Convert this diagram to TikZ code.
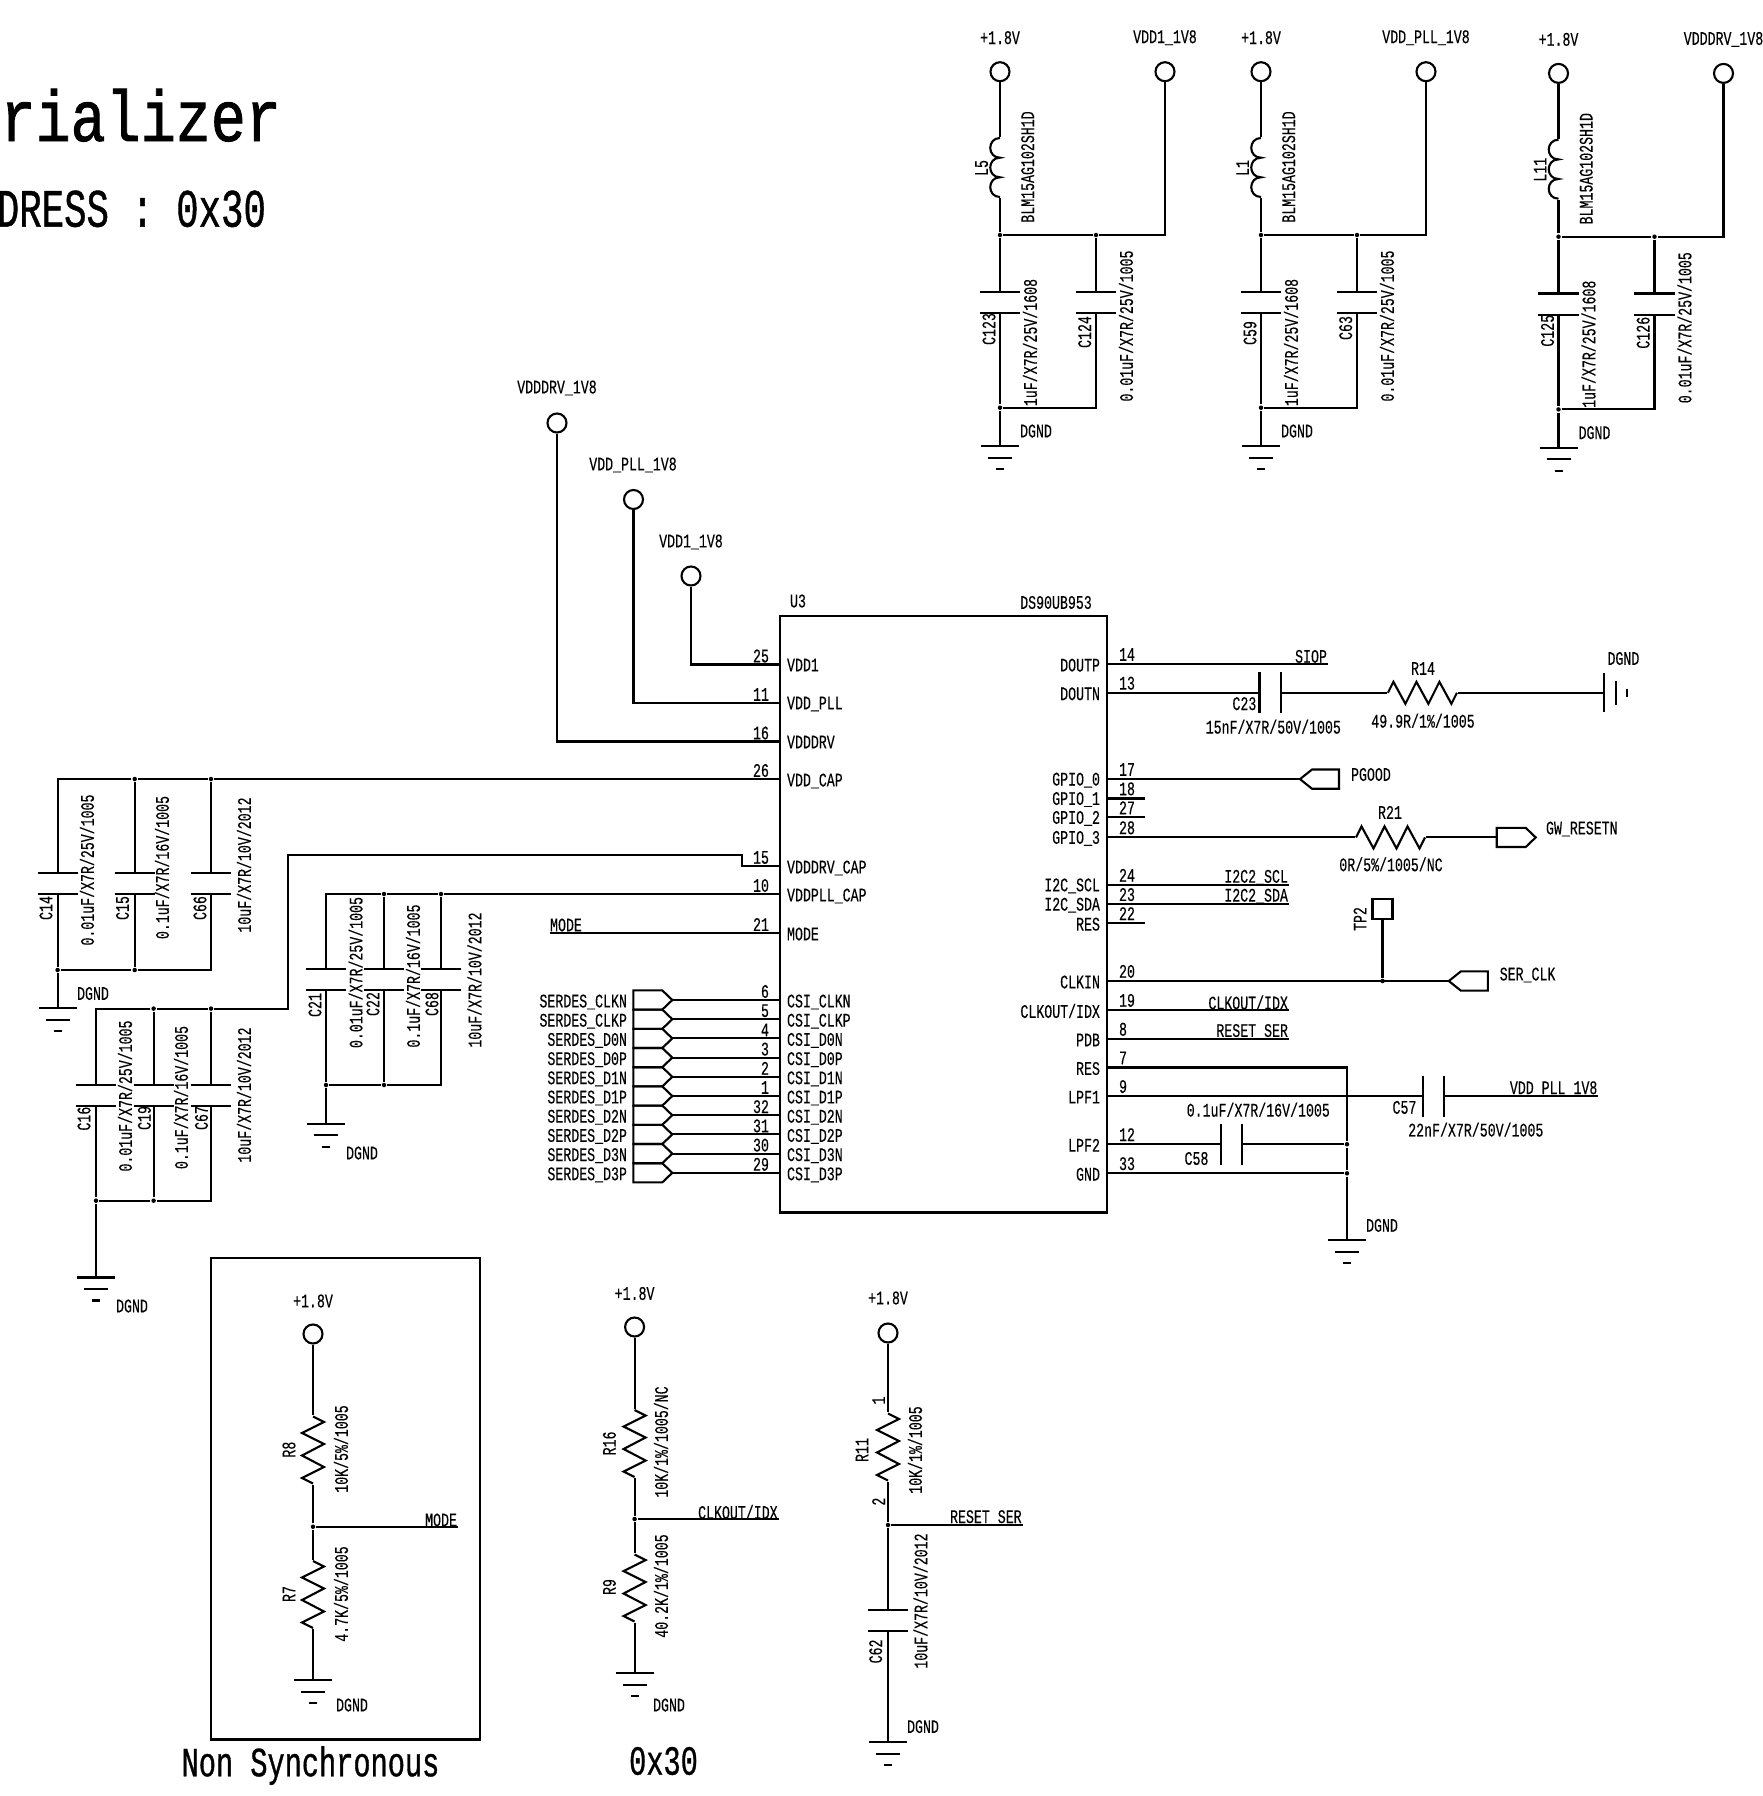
\documentclass[tikz,border=0pt]{standalone}
\usepackage{fontspec}
\newfontfamily\lblfamily[FakeStretch=0.69,FakeBold=0.25]{Liberation Mono}
\newfontfamily\bigfamily[FakeStretch=0.69,FakeBold=0.8]{Liberation Mono}
\newfontfamily\titlefamily[FakeStretch=0.81,FakeBold=1.2]{Liberation Mono}
\tikzset{
  lbl/.style={font=\lblfamily\fontsize{5.46}{6}\selectfont,inner sep=0},
  biglbl/.style={font=\bigfamily\fontsize{11.8}{13}\selectfont,inner sep=0},
  vlbl/.style={lbl,rotate=90},
  term/.style={draw,circle,minimum size=0.19cm,inner sep=0},
  dot/.style={fill,circle,minimum size=0.045cm,inner sep=0},
  capv/.style={inner sep=0,minimum width=0.38cm,minimum height=0.19cm,
    append after command={(\tikzlastnode.north west) edge (\tikzlastnode.north east)
      (\tikzlastnode.south west) edge (\tikzlastnode.south east)}},
  caph/.style={inner sep=0,minimum width=0.19cm,minimum height=0.39cm,
    append after command={(\tikzlastnode.north west) edge (\tikzlastnode.south west)
      (\tikzlastnode.north east) edge (\tikzlastnode.south east)}},
  compv/.style={inner sep=0,minimum width=0.22cm,minimum height=0.67cm},
  comph/.style={inner sep=0,minimum width=0.69cm,minimum height=0.22cm},
  coilnode/.style={inner sep=0,minimum width=0.09cm,minimum height=0.59cm},
  zigv/.pic={\draw (0,-33.5) -- (11,-28) -- (-11,-17) -- (11,-6) -- (-11,5.5) -- (11,17) -- (-11,28) -- (0,33.5);},
  zigh/.pic={\draw (-34.5,0) -- (-29,-11) -- (-17,11) -- (-6,-11) -- (6,11) -- (17,-11) -- (29,11) -- (34.5,0);},
  coil/.pic={\draw (0,-29.5) .. controls +(-13,0) and +(-13,0) .. (0,-9.8)
    .. controls +(-13,0) and +(-13,0) .. (0,9.8)
    .. controls +(-13,0) and +(-13,0) .. (0,29.5);},
  gnd/.pic={\draw (-19,0) -- (19,0) (-12,11.7) -- (12,11.7) (-4,23) -- (4,23);},
  gndr/.pic={\draw (0,-19.5) -- (0,19.5) (11.7,-12) -- (11.7,12) (23,-4) -- (23,4);},
  portr/.pic={\draw (0,-9.6) -- (29,-9.6) -- (39,0) -- (29,9.6) -- (0,9.6) -- cycle;},
  portl/.pic={\draw (0,0) -- (12,-9.6) -- (39,-9.6) -- (39,9.6) -- (12,9.6) -- cycle;},
}
\newcommand{\pinL}[5][2]{%
  \coordinate (pin#2) at (780,#3);
  \node[lbl,anchor=east] (num#2) at (770,#3-8.5) {#4};
  \node[lbl,anchor=west] (txt#2) at (786,#3+#1) {#5};}
\newcommand{\pinR}[5]{%
  \coordinate (pin#1) at (1107,#2);
  \coordinate (end#1) at (#5,#2);
  \node[lbl,anchor=west] (num#1) at (1118,#2-9.6) {#3};
  \node[lbl,anchor=east] (txt#1) at (1101,#2+1) {#4};}
\newcommand{\resv}[2]{\node[compv] (#1) at (#2) {}; \pic at (#1) {zigv};}
\newcommand{\resh}[2]{\node[comph] (#1) at (#2) {}; \pic at (#1) {zigh};}
\newcommand{\gndat}[2]{\coordinate (#1) at (#2); \pic at (#1) {gnd};}
\begin{document}
\begin{tikzpicture}[x=0.01cm,y=-0.01cm,line width=0.6pt]
\useasboundingbox (0,0) rectangle (1763,1796);
% Titles
\node[font=\titlefamily\fontsize{20.5}{21}\selectfont,inner sep=0,anchor=base east] (title) at (282,141) {rializer};
\node[font=\bigfamily\fontsize{15.4}{16}\selectfont,inner sep=0,anchor=base east] (address) at (267,226.7) {DRESS : 0x30};
% Supply filters
\foreach \dx/\dy/\Lname/\Ca/\Cb/\cya/\cyb/\railname in {0/0/L5/C123/C124/329/332/{VDD1\_1V8},261/0/L1/C59/C63/333/328/{VDD\_PLL\_1V8},558.5/1.7/L11/C125/C126/329/331/{VDDDRV\_1V8}}{
\begin{scope}[shift={(\dx,\dy)}]
\node[term] (in\Lname) at (1000,71.7) {};
\node[term] (out\Lname) at (1165,71.7) {};
\node[lbl] (supply\Lname) at (1000,37.7) {+1.8V};
\node[lbl] (rail\Lname) at (1165,37.7) {\railname};
\node[dot] (top\Lname) at (1000,235) {};
\node[dot] (mid\Lname) at (1096,235) {};
\node[dot] (bot\Lname) at (1000,407.7) {};
\coordinate (cor\Lname) at (1096,407.7);
\node[coilnode] (\Lname) at (1000,167.5) {};
\pic at (\Lname) {coil};
\node[capv] (\Ca) at (1000,302.3) {};
\node[capv] (\Cb) at (1096,302.3) {};
\gndat{gnd\Lname}{1000,446}
\draw (in\Lname) -- (\Lname) -- (top\Lname) -- (mid\Lname) -| (out\Lname);
\draw (top\Lname) -- (\Ca) -- (bot\Lname) -- (cor\Lname) -- (\Cb) -- (mid\Lname);
\draw (bot\Lname) -- (gnd\Lname);
% Labels
\node[vlbl] (name\Lname) at (981.6,168) {\Lname};
\node[vlbl] (part\Lname) at (1027.7,167) {BLM15AG102SH1D};
\node[vlbl] (name\Ca) at (989,\cya) {\Ca};
\node[vlbl] (val\Ca) at (1030,342.5) {1uF/X7R/25V/1608};
\node[vlbl] (name\Cb) at (1084.7,\cyb) {\Cb};
\node[vlbl] (val\Cb) at (1126,326) {0.01uF/X7R/25V/1005};
\node[lbl] (dgnd\Lname) at (1036,431) {DGND};
\end{scope}}
% U3
\node[draw,line width=0.75pt,inner sep=0,minimum width=3.27cm,minimum height=5.96cm] (chip) at (943.5,914) {};
\node[lbl] (U3) at (798,601) {U3};
\node[lbl] (U3part) at (1056,602.5) {DS90UB953};
\pinL[0.5]{VDDa}{664.5}{25}{VDD1}
\pinL[1]{VDDPLL}{703}{11}{VDD\_PLL}
\pinL[0.5]{VDDDRV}{741.5}{16}{VDDDRV}
\pinL{VDDCAP}{779}{26}{VDD\_CAP}
\pinL{DRVCAP}{866}{15}{VDDDRV\_CAP}
\pinL{PLLCAP}{894}{10}{VDDPLL\_CAP}
\pinL[1]{MODE}{933}{21}{MODE}
% Supply inputs
\node[term] (vddrv) at (557,423) {};
\node[term] (vdpll) at (633.5,499.5) {};
\node[term] (vdda) at (691,576) {};
\node[lbl] (vddrvlab) at (557,388) {VDDDRV\_1V8};
\node[lbl] (vdplllab) at (633,465) {VDD\_PLL\_1V8};
\node[lbl] (vddalab) at (691,542) {VDD1\_1V8};
\draw (vddrv) |- (pinVDDDRV);
\draw (vdpll) |- (pinVDDPLL);
\draw (vdda) |- (pinVDDa);
% MODE net
\coordinate (modeend) at (550,933);
\draw (modeend) -- (pinMODE);
\node[lbl] (modelab) at (566,925) {MODE};
% VDD_CAP caps
\node[capv] (C14) at (57.6,883.5) {};
\node[capv] (C15) at (134.7,883.5) {};
\node[capv] (C66) at (211,883.5) {};
\node[dot] (dA2) at (134.7,779) {};
\node[dot] (dA3) at (211,779) {};
\node[dot] (dA4) at (57.6,970) {};
\node[dot] (dA5) at (134.7,970) {};
\coordinate (dA6) at (211,970);
\gndat{gndA}{57.6,1008}
\draw (pinVDDCAP) -- (dA3) -- (dA2) -| (C14) -- (dA4) -- (dA5) -- (dA6) -- (C66) -- (dA3);
\draw (dA2) -- (C15) -- (dA5);
\draw (dA4) -- (gndA);
\node[vlbl] (nC14) at (46,908) {C14};
\node[vlbl] (vC14) at (87,870) {0.01uF/X7R/25V/1005};
\node[vlbl] (nC15) at (122.5,908) {C15};
\node[vlbl] (vC15) at (162,867.5) {0.1uF/X7R/16V/1005};
\node[vlbl] (nC66) at (200,908) {C66};
\node[vlbl] (vC66) at (244,865) {10uF/X7R/10V/2012};
\node[lbl] (dgndA) at (93,993.5) {DGND};
% VDDDRV_CAP caps
\coordinate (jogB1) at (742,866);
\coordinate (jogB2) at (742,855);
\coordinate (jogB3) at (288,855);
\node[dot] (dB3) at (211,1008.6) {};
\node[dot] (dB2) at (153.6,1008.6) {};
\node[capv] (C16) at (96,1095.2) {};
\node[capv] (C19) at (153.6,1095.2) {};
\node[capv] (C67) at (211,1095.2) {};
\node[dot] (dB4) at (96,1200.7) {};
\node[dot] (dB5) at (153.6,1200.7) {};
\coordinate (dB6) at (211,1200.7);
\gndat{gndB}{96,1277.5}
\draw (pinDRVCAP) -- (jogB1) -- (jogB2) -- (jogB3) |- (dB3) -- (dB2) -| (C16) -- (dB4) -- (dB5) -- (dB6) -- (C67) -- (dB3);
\draw (dB2) -- (C19) -- (dB5);
\draw (dB4) -- (gndB);
\node[vlbl] (nC16) at (84,1118.6) {C16};
\node[vlbl] (vC16) at (125,1096) {0.01uF/X7R/25V/1005};
\node[vlbl] (nC19) at (144.4,1118) {C19};
\node[vlbl] (vC19) at (181,1097.5) {0.1uF/X7R/16V/1005};
\node[vlbl] (nC67) at (201.5,1118) {C67};
\node[vlbl] (vC67) at (244,1095) {10uF/X7R/10V/2012};
\node[lbl] (dgndB) at (132,1306) {DGND};
% VDDPLL_CAP caps
\node[dot] (dC3) at (441,894) {};
\node[dot] (dC2) at (384,894) {};
\node[capv] (C21) at (326,979.7) {};
\node[capv] (C22) at (384,979.7) {};
\node[capv] (C68) at (441,979.7) {};
\node[dot] (dC4) at (326,1085) {};
\node[dot] (dC5) at (384,1085) {};
\coordinate (dC6) at (441,1085);
\gndat{gndC}{326,1123.6}
\draw (pinPLLCAP) -- (dC3) -- (dC2) -| (C21) -- (dC4) -- (dC5) -- (dC6) -- (C68) -- (dC3);
\draw (dC2) -- (C22) -- (dC5);
\draw (dC4) -- (gndC);
\node[vlbl] (nC21) at (315,1005) {C21};
\node[vlbl] (vC21) at (355.6,972.5) {0.01uF/X7R/25V/1005};
\node[vlbl] (nC22) at (373,1004) {C22};
\node[vlbl] (vC22) at (413,976) {0.1uF/X7R/16V/1005};
\node[vlbl] (nC68) at (432,1004) {C68};
\node[vlbl] (vC68) at (474.5,980) {10uF/X7R/10V/2012};
\node[lbl] (dgndC) at (362,1153) {DGND};
% SERDES inputs
\foreach \yy/\pinno/\sig in {1000/6/CLKN,1019.2/5/CLKP,1038.4/4/D0N,1057.6/3/D0P,1076.8/2/D1N,1096/1/D1P,1115.2/32/D2N,1134.4/31/D2P,1153.6/30/D3N,1172.8/29/D3P}{
\pinL{\sig}{\yy}{\pinno}{CSI\_\sig}
\coordinate (ser\sig) at (633.3,\yy);
\coordinate (tip\sig) at (672.3,\yy);
\pic at (ser\sig) {portr};
\draw (tip\sig) -- (pin\sig);
\node[lbl,anchor=east] (serlab\sig) at (628,\yy+2) {SERDES\_\sig};
}
% Right side pins
\pinR{DOUTP}{664.1}{14}{DOUTP}{1328}
\pinR{DOUTN}{692.8}{13}{DOUTN}{1604}
\pinR{GPIOa}{779.1}{17}{GPIO\_0}{1300}
\pinR{GPIOb}{798.5}{18}{GPIO\_1}{1145.2}
\pinR{GPIOc}{817.4}{27}{GPIO\_2}{1145.2}
\pinR{GPIOd}{837.4}{28}{GPIO\_3}{1496.7}
\pinR{SCL}{884.9}{24}{I2C\_SCL}{1289}
\pinR{SDA}{904.2}{23}{I2C\_SDA}{1289}
\pinR{RESa}{923.2}{22}{RES}{1145.2}
\pinR{CLKIN}{981}{20}{CLKIN}{1448.8}
\pinR{CLKOUT}{1010}{19}{CLKOUT/IDX}{1289}
\pinR{PDB}{1038.9}{8}{PDB}{1289}
\pinR{RESb}{1067.5}{7}{RES}{1347}
\pinR{LPFa}{1096.1}{9}{LPF1}{1598.4}
\pinR{LPFb}{1144.2}{12}{LPF2}{1347}
\pinR{GND}{1173.3}{33}{GND}{1347}
% Right side nets
\draw (pinDOUTP) -- (endDOUTP);
\node[lbl,anchor=east] (SIOP) at (1328,656.4) {SIOP};
\node[caph] (C23) at (1270,692.8) {};
\resh{R14}{1422.4,692.8}
\coordinate (gndD) at (1604,692.8);
\pic at (gndD) {gndr};
\draw (pinDOUTN) -- (C23) -- (R14) -- (gndD);
\node[lbl] (nC23) at (1244.4,703.7) {C23};
\node[lbl] (vC23) at (1273.3,726.7) {15nF/X7R/50V/1005};
\node[lbl] (nR14) at (1423,668.5) {R14};
\node[lbl] (vR14) at (1423,720.7) {49.9R/1\%/1005};
\node[lbl] (dgndD) at (1623.4,658.5) {DGND};
\draw (pinGPIOa) -- (endGPIOa);
\pic at (endGPIOa) {portl};
\node[lbl,anchor=west] (PGOOD) at (1350,774.5) {PGOOD};
\draw (pinGPIOb) -- (endGPIOb);
\draw (pinGPIOc) -- (endGPIOc);
\resh{R21}{1390.5,837.4}
\draw (pinGPIOd) -- (R21) -- (endGPIOd);
\pic at (endGPIOd) {portr};
\node[lbl] (nR21) at (1390,812.4) {R21};
\node[lbl] (vR21) at (1391,864.3) {0R/5\%/1005/NC};
\node[lbl,anchor=west] (RESETN) at (1545,829) {GW\_RESETN};
\draw (pinSCL) -- (endSCL);
\node[lbl,anchor=east] (netSCL) at (1289,877.3) {I2C2\_SCL};
\draw (pinSDA) -- (endSDA);
\node[lbl,anchor=east] (netSDA) at (1289,896.2) {I2C2\_SDA};
\draw (pinRESa) -- (endRESa);
\draw (pinCLKIN) -- (endCLKIN);
\pic at (endCLKIN) {portl};
\node[lbl,anchor=west] (SERCLK) at (1498.7,975) {SER\_CLK};
\node[draw,inner sep=0,minimum size=0.2cm] (TPbox) at (1382.5,909.2) {};
\node[dot] (dTP) at (1382.5,981) {};
\draw (TPbox) -- (dTP);
\node[vlbl] (TP2) at (1360,919) {TP2};
\draw (pinCLKOUT) -- (endCLKOUT);
\node[lbl,anchor=east] (netCLK) at (1289,1002.5) {CLKOUT/IDX};
\draw (pinPDB) -- (endPDB);
\node[lbl,anchor=east] (netRST) at (1289,1031.5) {RESET\_SER};
% LPF and ground
\gndat{gndU}{1347,1240}
\node[dot] (dLPF) at (1347,1144.2) {};
\node[dot] (dGND) at (1347,1173.3) {};
\node[caph] (C57) at (1433.3,1096.1) {};
\node[caph] (C58) at (1231.4,1144.2) {};
\draw (pinRESb) -- (endRESb) -- (dLPF) -- (dGND) -- (gndU);
\draw (pinLPFa) -- (C57) -- (endLPFa);
\draw (pinLPFb) -- (C58) -- (dLPF);
\draw (pinGND) -- (dGND);
\node[lbl,anchor=east] (netPLL) at (1598.4,1088.7) {VDD\_PLL\_1V8};
\node[lbl] (nC57) at (1404.5,1107.4) {C57};
\node[lbl] (vC57) at (1475.8,1129.6) {22nF/X7R/50V/1005};
\node[lbl] (nC58) at (1196.5,1158.5) {C58};
\node[lbl] (vC58) at (1258.3,1109.7) {0.1uF/X7R/16V/1005};
\node[lbl] (dgndU) at (1382,1225.4) {DGND};
% Non Synchronous
\node[draw,inner sep=0,minimum width=2.69cm,minimum height=4.81cm,line width=0.65pt] (nsbox) at (345.5,1498.8) {};
\node[biglbl] (nslab) at (310.5,1765.5) {Non Synchronous};
\node[term] (pwrA) at (313,1334) {};
\node[lbl] (pwrAlab) at (313,1301) {+1.8V};
\resv{R8}{313,1450}
\resv{R7}{313,1594.5}
\node[dot] (dMode) at (313,1526.7) {};
\coordinate (modeout) at (458,1526.7);
\gndat{gndE}{313,1680}
\draw (pwrA) -- (R8) -- (dMode) -- (R7) -- (gndE);
\draw (dMode) -- (modeout);
\node[lbl,anchor=east] (modenet) at (458,1520) {MODE};
\node[vlbl] (nR8) at (289,1449.6) {R8};
\node[vlbl] (vR8) at (341,1449) {10K/5\%/1005};
\node[vlbl] (nR7) at (289,1594) {R7};
\node[vlbl] (vR7) at (341,1594) {4.7K/5\%/1005};
\node[lbl] (dgndE) at (352,1705) {DGND};
% 0x30 strap
\node[biglbl] (addrlab) at (663.5,1761) {0x30};
\node[term] (pwrB) at (634.6,1327) {};
\node[lbl] (pwrBlab) at (634.6,1293.5) {+1.8V};
\resv{R16}{634.6,1443.5}
\resv{R9}{634.6,1588}
\node[dot] (dClk) at (634.6,1519) {};
\coordinate (clkout) at (778.7,1519);
\gndat{gndF}{634.6,1673}
\draw (pwrB) -- (R16) -- (dClk) -- (R9) -- (gndF);
\draw (dClk) -- (clkout);
\node[lbl,anchor=east] (clknet) at (778.7,1512) {CLKOUT/IDX};
\node[vlbl] (nR16) at (609.4,1443.4) {R16};
\node[vlbl] (vR16) at (661,1442) {10K/1\%/1005/NC};
\node[vlbl] (nR9) at (609.4,1587) {R9};
\node[vlbl] (vR9) at (661,1586) {40.2K/1\%/1005};
\node[lbl] (dgndF) at (669,1705) {DGND};
% Reset
\node[term] (pwrC) at (888,1333) {};
\node[lbl] (pwrClab) at (888,1298) {+1.8V};
\resv{R11}{888,1447}
\node[dot] (dRst) at (888,1525) {};
\coordinate (rstout) at (1022.7,1525);
\node[capv] (C62) at (888,1620.3) {};
\gndat{gndG}{888,1742}
\draw (pwrC) -- (R11) -- (dRst) -- (C62) -- (gndG);
\draw (dRst) -- (rstout);
\node[lbl,anchor=east] (rstnet) at (1022.7,1517.6) {RESET\_SER};
\node[vlbl] (pin1) at (878.6,1400.5) {1};
\node[vlbl] (pin2) at (878.6,1501.6) {2};
\node[vlbl] (nR11) at (862,1450) {R11};
\node[vlbl] (vR11) at (915,1450) {10K/1\%/1005};
\node[vlbl] (nC62) at (875.7,1651.4) {C62};
\node[vlbl] (vC62) at (920.5,1601) {10uF/X7R/10V/2012};
\node[lbl] (dgndG) at (923,1726.6) {DGND};
\end{tikzpicture}
\end{document}
